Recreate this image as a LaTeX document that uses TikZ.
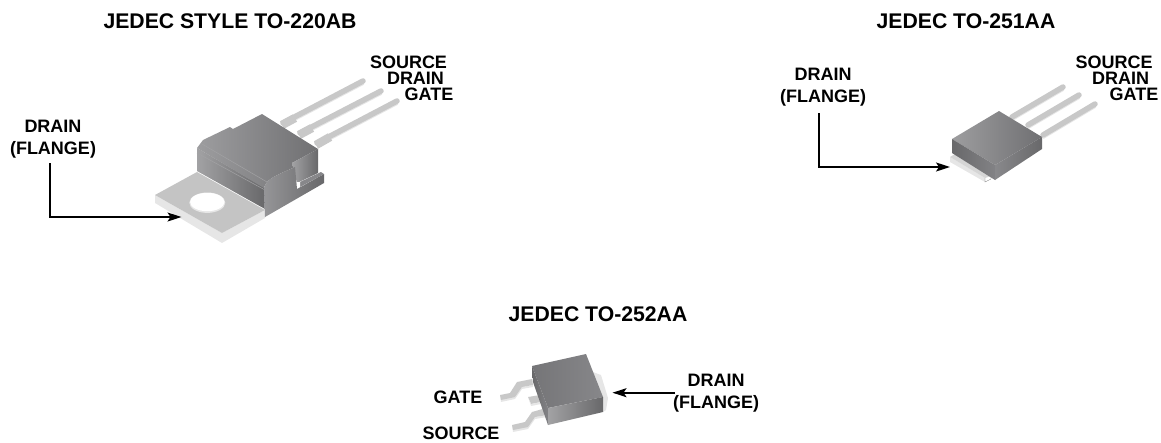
\documentclass[tikz,border=0pt]{standalone}
\usepackage{fontspec}
\setmainfont{Liberation Sans}
\usetikzlibrary{arrows.meta}
\definecolor{bodyD}{HTML}{68686A}
\definecolor{bodyM}{HTML}{828285}
\definecolor{bodyL}{HTML}{A2A2A4}
\definecolor{flTop}{HTML}{C4C4C4}
\definecolor{flEdge}{HTML}{E6E6E6}
\definecolor{leadC}{HTML}{C8C8C8}
\tikzset{
  x=1pt,y=-1pt,
  lbl/.style={font=\bfseries\fontsize{18}{22}\selectfont,inner sep=0pt,align=center,text=black},
  ttl/.style={font=\bfseries\fontsize{21.2}{24}\selectfont,inner sep=0pt,text=black},
  conn/.style={draw=black,line width=1.6pt,-{Stealth[length=14pt,width=9pt,inset=3pt]}},
  topface/.style={left color=bodyL!85!bodyM,right color=bodyD!70!bodyM},
  flatface/.style={left color=bodyM!90!black,right color=bodyM!85!bodyL},
  sideface/.style={left color=bodyL,right color=bodyD},
  darkface/.style={left color=bodyD,right color=bodyM},
  lead/.style={line cap=round,draw=leadC,line width=5.5pt},
  leadedge/.style={line cap=round,draw=flEdge,line width=1.4pt}
}
\newcommand{\leadpin}[4]{%
  \draw[leadedge] (#1+0.5,#2+3.2) -- (#3+0.5,#4+3.2);
  \draw[lead] (#1,#2) -- (#3,#4);
}
\begin{document}
\begin{tikzpicture}
\useasboundingbox (0,0) rectangle (1161,442);
% ---- TO-220
\leadpin{363}{81}{283}{123}
\leadpin{381}{91}{300}{133}
\leadpin{397}{101}{317}{143}
\draw[line width=8.5pt,leadC] (295,118) -- (282,125) (312,128) -- (299,135) (330,137) -- (316,145);
\fill[flEdge] (155,195) -- (222,233) -- (265,210) -- (265,218) -- (222,243) -- (155,203) -- cycle;
\fill[flTop] (155,195) -- (197,172) -- (265,210) -- (222,233) -- cycle;
\fill[flEdge] (207.3,202.7) ellipse [x radius=18,y radius=10.2];
\fill[white] (207.3,202) ellipse [x radius=17.2,y radius=9.2];
% front-left face
\path[sideface] (197,148) -- (265,188) -- (265,209) -- (197,171) -- cycle;
\draw[bodyL,line width=.5pt] (197,153) -- (265,190);
% top
\path[topface] (197,148) -- (203,140) -- (230,127) -- (233,129) -- (262,114) -- (318,149) -- (292,163) -- (295,167) .. controls (280,174) and (266,178) .. (264,188) -- cycle;
\draw[bodyL,line width=.5pt] (202,144) -- (267,182);
% notch wall and foot
\path[left color=bodyL,right color=bodyD] (292,163) -- (318,149) -- (318,173) -- (297,183) -- cycle;
\fill[bodyM!85!bodyL] (300,182) -- (321,172) -- (324,174) -- (300,187) -- cycle;
\fill[white] (297,182) -- (300,182) -- (300,187) -- (297,188) -- cycle;
% shell
\path[left color=bodyL!60!bodyM,right color=bodyD] (264,188) .. controls (266,178) and (280,174) .. (295,167) -- (297,189) -- (324,174) -- (324,183) -- (265,217) -- cycle;
% ---- TO-251
\leadpin{1063}{87}{1012}{117}
\leadpin{1079}{95}{1028}{125}
\leadpin{1095}{104}{1043}{135}
\fill[flEdge] (950,157) -- (985,178) -- (985,182) -- (950,162) -- cycle;
\fill[flTop!50!flEdge] (950,157) -- (955,154) -- (990,173) -- (991,176) -- (985,178) -- cycle;
\draw[gray,line width=.4pt] (985,178) -- (985,182) -- (991,179) -- (991,176);
\path[topface] (952,139) -- (999,111) -- (1042,137) -- (995,165) -- cycle;
\path[darkface] (952,139) -- (995,165) -- (995,180) -- (952,153) -- cycle;
\path[left color=bodyM!80!bodyL,right color=bodyD] (995,165) -- (1042,137) -- (1042,149) -- (995,180) -- cycle;
% ---- TO-252
\fill[flEdge] (500,395) -- (501,402) -- (515,399) -- (522,389) -- (533,387) -- (533,385) -- (522,387) -- (515,397) -- cycle;
\fill[leadC] (532,379) -- (517,382) -- (510,393) -- (500,395) -- (501,400) -- (515,397) -- (522,387) -- (533,385) -- cycle;
\fill[leadC] (528,397) -- (540,395) -- (541,402) -- (531,404) -- cycle;
\fill[flEdge] (528,397) -- (531,404) -- (541,402) -- (541,404) -- (531,406) -- cycle;
\fill[flEdge] (512,425) -- (513,432) -- (528,429) -- (535,419) -- (547,417) -- (547,415) -- (535,417) -- (528,427) -- cycle;
\fill[leadC] (546,408) -- (532,412) -- (525,422) -- (512,425) -- (513,430) -- (528,427) -- (535,417) -- (547,415) -- cycle;
\fill[flEdge] (593,372) -- (601,375) -- (608,398) -- (606,410) -- (603,412) -- cycle;
\path[flatface] (532,366) -- (586,354) -- (603,397) -- (548,408) -- cycle;
\path[darkface] (532,366) -- (548,408) -- (548,425) -- (533,382) -- cycle;
\path[sideface] (548,408) -- (603,397) -- (603,412) -- (548,425) -- cycle;
% ---- labels
\node[ttl] (t1) at (230,21) {JEDEC STYLE TO-220AB};
\node[ttl] (t2) at (966,21) {JEDEC TO-251AA};
\node[ttl] (t3) at (598,314) {JEDEC TO-252AA};
\node[lbl] (s1) at (408.5,62) {SOURCE};
\node[lbl] (d1) at (415.5,78) {DRAIN};
\node[lbl] (g1) at (429,94) {GATE};
\node[lbl] (s2) at (1114,62) {SOURCE};
\node[lbl] (d2) at (1120.5,78) {DRAIN};
\node[lbl] (g2) at (1134,94) {GATE};
\node[lbl] (f1) at (53,139) {DRAIN\\(FLANGE)};
\node[lbl] (f2) at (823,87) {DRAIN\\(FLANGE)};
\node[lbl] (f3) at (716,393) {DRAIN\\(FLANGE)};
\node[lbl] (g3) at (458,397) {GATE};
\node[lbl] (s3) at (461,433) {SOURCE};
% ---- connectors
\coordinate (a1) at (50,163);
\coordinate (e1) at (181.5,217);
\coordinate (a2) at (819,113);
\coordinate (e2) at (950,167);
\coordinate (a3) at (675,392.7);
\coordinate (e3) at (612.5,392.7);
\draw[conn] (a1) |- (e1);
\draw[conn] (a2) |- (e2);
\draw[conn] (a3) -- (e3);
\end{tikzpicture}
\end{document}
